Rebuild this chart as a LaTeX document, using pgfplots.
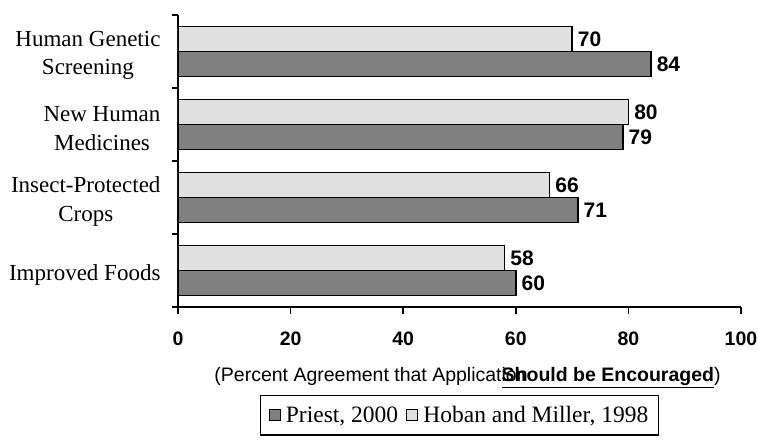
\documentclass[border=0pt]{standalone}
\usepackage{fontspec}
\setmainfont{Liberation Serif}
\newfontfamily\arial{Liberation Sans}
\usepackage{pgfplots}
\pgfplotsset{compat=1.18}

\definecolor{priest}{RGB}{128,128,128}
\definecolor{hoban}{RGB}{224,224,224}

\begin{document}
\begin{tikzpicture}
\path[use as bounding box] (-178pt,-138pt) rectangle (580pt,307pt);
\begin{axis}[
  scale only axis,
  width=563pt, height=292pt,
  xbar,
  xmin=0, xmax=100,
  ymin=-0.5, ymax=3.5,
  axis x line*=bottom, axis y line*=left,
  axis line style={line width=1.8pt, -},
  every tick/.style={black, line width=1.8pt},
  tick align=outside,
  xtick={0,20,...,100},
  major tick length=7pt,
  minor tick length=6pt,
  ytick={0,1,2,3},
  yticklabels={Improved Foods, Insect-Protected\\Crops, New Human\\Medicines, Human Genetic\\Screening},
  major y tick style={draw=none},
  minor ytick={-0.5,0.5,1.5,2.5,3.5},
  yticklabel style={font=\fontsize{23}{28.5}\selectfont, align=center, xshift=-7pt, yshift=-4pt},
  xticklabel style={font=\arial\bfseries\fontsize{19.5}{22}\selectfont, yshift=-14pt},
  /pgf/number format/assume math mode=true,
  xlabel={\fontsize{19.5}{24}\selectfont\arial(Percent Agreement that Applicat\rlap{ion}\textbf{\underline{Should be Encouraged}})},
  xlabel style={at={(axis description cs:0.5,-0.255)}, anchor=base, xshift=8pt},
  bar width=0.342,
  nodes near coords,
  every node near coord/.append style={font=\arial\bfseries\fontsize{21}{23}\selectfont, inner sep=5pt},
  legend style={at={(0.5,-0.3)}, anchor=north, draw=black, line width=1.5pt,
    font=\fontsize{23.5}{27}\selectfont, legend columns=2,
    /tikz/every odd column/.append style={column sep=3pt},
    /tikz/every even column/.append style={column sep=6pt},
    inner xsep=8pt, inner ysep=9pt},
  legend image code/.code={\draw[#1, draw=black, line width=1.2pt] (0pt,-5pt) rectangle (11pt,6pt);},
]
\addplot[fill=priest, draw=black, line width=1.8pt, bar shift=-0.171]
  coordinates {(60,0) (71,1) (79,2) (84,3)};
\addlegendentry{Priest, 2000}
\addplot[fill=hoban, draw=black, line width=1.8pt, bar shift=0.171]
  coordinates {(58,0) (66,1) (80,2) (70,3)};
\addlegendentry{Hoban and Miller, 1998}
\end{axis}
\end{tikzpicture}
\end{document}
